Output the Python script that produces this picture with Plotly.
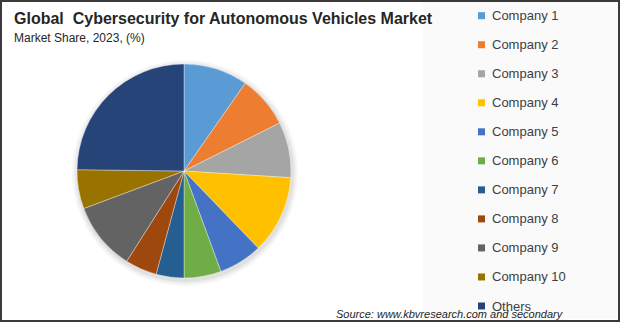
import plotly.graph_objects as go

W, H = 620, 322

labels = ["Company 1", "Company 2", "Company 3", "Company 4", "Company 5", "Company 6",
          "Company 7", "Company 8", "Company 9", "Company 10", "Others"]
shares = [9.7, 7.9, 8.4, 11.8, 6.6, 5.6, 4.2, 4.8, 10.3, 5.9, 24.8]
colors = ["#5B9BD5", "#ED7D31", "#A5A5A5", "#FFC000", "#4472C4", "#70AD47",
          "#255E91", "#9E480E", "#636363", "#997300", "#264478"]

title_text = "Global\u00a0 Cybersecurity for Autonomous Vehicles Market"
subtitle_text = "Market Share, 2023, (%)"
source_text = "Source: www.kbvresearch.com and secondary"

FONT = "Liberation Sans, Arial, sans-serif"

def px(x):
    return x / W

def py(y):
    return 1 - y / H

# pie geometry (pixels)
cx, cy, r = 184, 171, 107

fig = go.Figure()
fig.add_trace(go.Pie(
    labels=labels,
    values=shares,
    marker=dict(colors=colors, line=dict(color="rgba(255,255,255,0.6)", width=0.6)),
    sort=False,
    direction="clockwise",
    rotation=0,
    textinfo="none",
    showlegend=False,
    domain=dict(x=[px(cx - r), px(cx + r)], y=[py(cy + r), py(cy - r)]),
))

shapes = []
# legend panel
shapes.append(dict(type="rect", xref="paper", yref="paper", layer="below",
                   x0=px(423), x1=px(618), y0=py(319), y1=py(2),
                   fillcolor="#fafafa", line=dict(width=0)))
# soft shadow around pie
for i, (dr, op) in enumerate([(6, 0.03), (4, 0.04), (2, 0.05)]):
    rr = r + dr
    shapes.append(dict(type="circle", xref="paper", yref="paper", layer="below",
                       x0=px(cx - rr + 1), x1=px(cx + rr + 1), y0=py(cy + rr + 2), y1=py(cy - rr + 2),
                       fillcolor="rgba(0,0,0,%g)" % op, line=dict(width=0)))
# outer border
shapes.append(dict(type="rect", xref="paper", yref="paper",
                   x0=px(1), x1=px(619), y0=py(321), y1=py(1),
                   fillcolor="rgba(0,0,0,0)", line=dict(color="#3a3a3a", width=2)))

annotations = [
    dict(text="<b>" + title_text + "</b>", x=px(12), y=py(18), xref="paper", yref="paper",
         xanchor="left", yanchor="middle", showarrow=False,
         font=dict(family=FONT, size=16, color="#262626")),
    dict(text=subtitle_text, x=px(12), y=py(38), xref="paper", yref="paper",
         xanchor="left", yanchor="middle", showarrow=False,
         font=dict(family=FONT, size=12, color="#262626")),
    dict(text="<i>" + source_text + "</i>", x=px(566), y=py(314), xref="paper", yref="paper",
         xanchor="right", yanchor="middle", showarrow=False,
         font=dict(family=FONT, size=11, color="#262626")),
]

# legend (built from labels/colors)
leg_y0, leg_dy = 15.7, 29.03
for i, (lab, col) in enumerate(zip(labels, colors)):
    yc = leg_y0 + leg_dy * i
    shapes.append(dict(type="rect", xref="paper", yref="paper",
                       x0=px(478), x1=px(485), y0=py(yc + 3.5), y1=py(yc - 3.5),
                       fillcolor=col, line=dict(width=0)))
    annotations.append(dict(text=lab, x=px(490), y=py(yc), xref="paper", yref="paper",
                            xanchor="left", yanchor="middle", showarrow=False,
                            font=dict(family=FONT, size=13, color="#404040")))

fig.update_layout(
    width=W, height=H,
    margin=dict(l=0, r=0, t=0, b=0),
    paper_bgcolor="white",
    plot_bgcolor="white",
    shapes=shapes,
    annotations=annotations,
)

fig.write_html("out.html", config={"displayModeBar": False})
